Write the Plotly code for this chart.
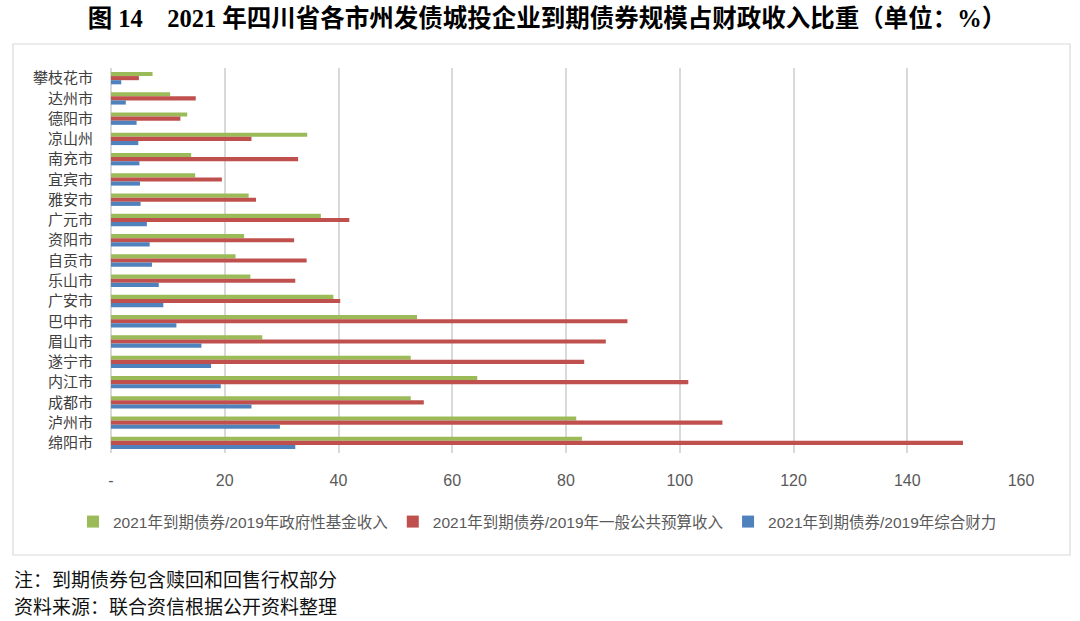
import plotly.graph_objects as go

# 城市（自上而下）
ciudades = ["攀枝花市", "达州市", "德阳市", "凉山州", "南充市", "宜宾市", "雅安市", "广元市",
            "资阳市", "自贡市", "乐山市", "广安市", "巴中市", "眉山市", "遂宁市", "内江市",
            "成都市", "泸州市", "绵阳市"]

# 2021年到期债券/2019年政府性基金收入
fondo = [7.3, 10.4, 13.4, 34.5, 14.1, 14.8, 24.2, 36.9, 23.4, 21.9, 24.5, 39.1,
         53.8, 26.6, 52.7, 64.4, 52.7, 81.8, 82.8]
# 2021年到期债券/2019年一般公共预算收入
presupuesto = [4.9, 14.9, 12.2, 24.7, 32.9, 19.5, 25.5, 41.9, 32.2, 34.4, 32.4, 40.3,
               90.8, 87.0, 83.2, 101.5, 55.0, 107.5, 149.8]
# 2021年到期债券/2019年综合财力
financiero = [1.8, 2.6, 4.5, 4.8, 5.0, 5.1, 5.2, 6.3, 6.8, 7.2, 8.4, 9.2,
              11.5, 15.9, 17.6, 19.3, 24.7, 29.7, 32.4]

series = ["2021年到期债券/2019年政府性基金收入",
          "2021年到期债券/2019年一般公共预算收入",
          "2021年到期债券/2019年综合财力"]
colores = ["#9BBB59", "#C0504D", "#4F81BD"]

tickvals = [0, 20, 40, 60, 80, 100, 120, 140, 160]
ticktext = ["-", "20", "40", "60", "80", "100", "120", "140", "160"]

titulo = "图 14　2021 年四川省各市州发债城投企业到期债券规模占财政收入比重（单位：%）"
nota = "注：到期债券包含赎回和回售行权部分"
fuente = "资料来源：联合资信根据公开资料整理"

cjk = "Liberation Sans, Noto Sans CJK SC"

# Geometria del area de trazado (px)
W, H = 1080, 621
L, R, T, B = 111, 1021, 68, 453

def px_x(p):
    return (p - L) / (R - L)

def px_y(p):
    return (B - p) / (B - T)

fig = go.Figure()
for nombre, vals, col in zip(series, [fondo, presupuesto, financiero], colores):
    fig.add_trace(go.Bar(y=ciudades, x=vals, name=nombre, orientation="h",
                         marker=dict(color=col, line=dict(width=0))))

fig.update_layout(
    width=W, height=H,
    margin=dict(l=L, r=W - R, t=T, b=H - B, autoexpand=False),
    paper_bgcolor="white", plot_bgcolor="white",
    barmode="group", bargap=0.39, bargroupgap=0,
    title=dict(text="<b>" + titulo + "</b>", x=px_x(547), xref="paper", xanchor="center",
               y=1 - 18 / H, yref="container", yanchor="middle",
               font=dict(family="Liberation Serif, Noto Sans CJK SC", size=24.5, color="#000000")),
    font=dict(family=cjk, color="#595959"),
    legend=dict(orientation="h", x=px_x(73), y=px_y(522), xanchor="left", yanchor="middle",
                font=dict(size=15.5, color="#595959", family=cjk),
                itemwidth=30, tracegroupgap=0),
    showlegend=True,
)

fig.update_xaxes(range=[0, 160], tickvals=tickvals, ticktext=ticktext,
                 showgrid=True, gridcolor="#D9D9D9", gridwidth=1.5,
                 zeroline=True, zerolinecolor="#D9D9D9", zerolinewidth=1.5,
                 showline=False, ticks="", ticklabelstandoff=16, automargin=False,
                 tickfont=dict(size=16, color="#595959", family="Liberation Sans"))
fig.update_yaxes(autorange="reversed", showgrid=False, zeroline=False, showline=False,
                 ticks="", ticklabelstandoff=17, automargin=False,
                 tickfont=dict(size=15, color="#404040", family="Noto Sans CJK SC"))

# Marco del grafico
fig.add_shape(type="rect", xref="paper", yref="paper",
              x0=px_x(13), x1=px_x(1070), y0=px_y(555), y1=px_y(44),
              line=dict(color="#D9D9D9", width=1.2), fillcolor="rgba(0,0,0,0)", layer="below")

fig.add_annotation(text=nota, xref="paper", yref="paper", x=px_x(12), y=px_y(578),
                   xanchor="left", yanchor="middle", showarrow=False,
                   font=dict(size=19, color="#111111", family="Noto Sans CJK SC"))
fig.add_annotation(text=fuente, xref="paper", yref="paper", x=px_x(12), y=px_y(605),
                   xanchor="left", yanchor="middle", showarrow=False,
                   font=dict(size=19, color="#111111", family="Noto Sans CJK SC"))

fig.write_html("out.html", config={"displayModeBar": False},
               post_script="document.body.style.margin='0';")
